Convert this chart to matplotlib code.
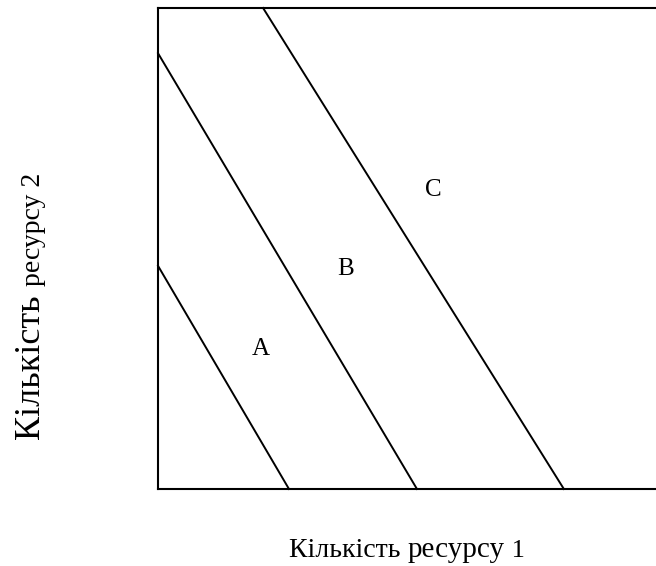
import matplotlib
matplotlib.use("Agg")
import matplotlib.pyplot as plt

# isoquant-like lines, (x, y) end points in 0..100 units
line_a = ([0, 26.3], [46.4, 0])
line_b = ([0, 52.0], [90.6, 0])
line_c = ([21.1, 81.5], [100, 0])
lines = [line_a, line_b, line_c]

labels = ["A", "B", "C"]
label_x = [20.7, 37.6, 55.2]
label_y = [29.1, 45.7, 62.2]

plt.rcParams['font.family'] = ['Liberation Serif', 'DejaVu Serif']

fig = plt.figure(figsize=(6.56, 5.66), dpi=100)
ax = fig.add_axes([158/656, 1 - 489/566, 1 - 158/656, (489 - 8)/566])
ax.set_xlim(0, 100)
ax.set_ylim(0, 100)
ax.set_xticks([])
ax.set_yticks([])
ax.spines['right'].set_visible(False)
for s in ['left', 'top', 'bottom']:
    ax.spines[s].set_linewidth(1.5)

for xs, ys in lines:
    ax.plot(xs, ys, color='black', lw=1.4, clip_on=False)

for t, x, y in zip(labels, label_x, label_y):
    ax.text(x, y, t, fontsize=18, ha='center', va='center')

# axis labels built from pieces of different size, like the source
fig.canvas.draw()
r = fig.canvas.get_renderer()

def put_row(pieces, x0, y0, rot=0):
    # pieces: list of (text, size); x0,y0 in pixels of the baseline start
    pos = x0 if rot == 0 else y0
    for txt, size in pieces:
        if rot == 0:
            t = fig.text(pos / 656, y0 / 566, txt, fontsize=size, va='baseline', ha='left')
        else:
            t = fig.text(x0 / 656, pos / 566, txt, fontsize=size, va='baseline', ha='left',
                         rotation=90, rotation_mode='anchor')
        bb = t.get_window_extent(r)
        pos += bb.width if rot == 0 else bb.height

put_row([("Кількість ", 20), ("ресурсу", 21), (" 1", 19)], 289, 566 - 557)
put_row([("Кількість ", 26), ("ресурсу 2", 20)], 40, 566 - 440, rot=90)

fig.savefig("out.png", dpi=100)
